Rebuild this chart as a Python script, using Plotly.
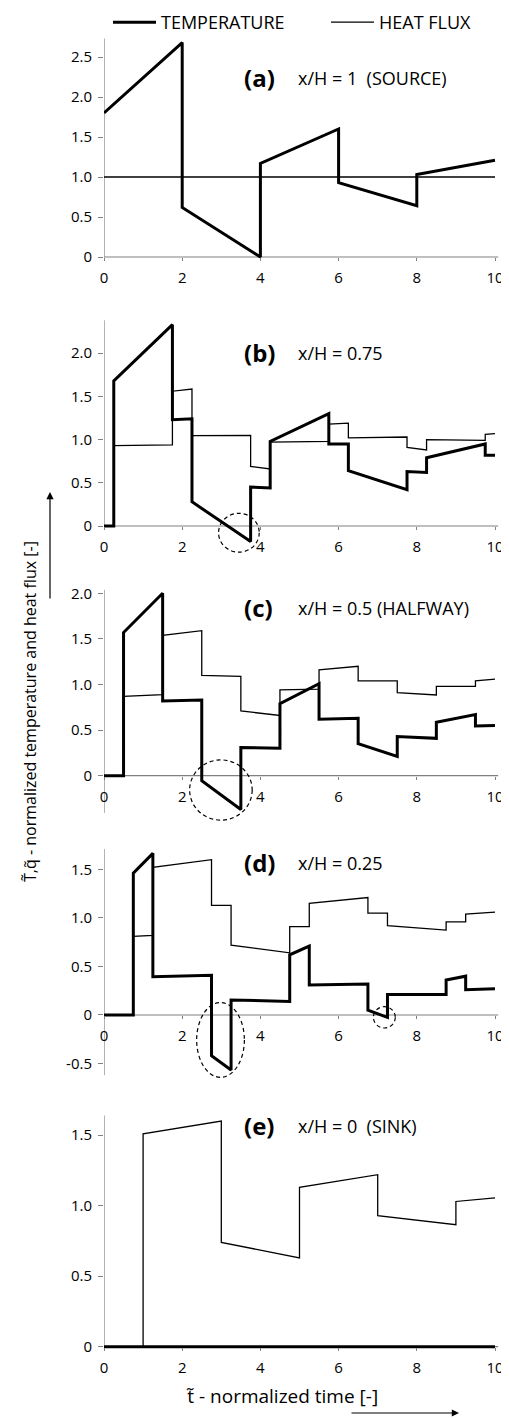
import plotly.graph_objects as go

# ---------------- data ----------------
# panel (a) x/H = 1 (SOURCE)
ta_x = [0, 2, 2, 4, 4, 6, 6, 8, 8, 10]
ta_y = [1.80, 2.68, 0.62, 0.0, 1.17, 1.60, 0.93, 0.64, 1.03, 1.21]
qa_x = [0, 10]
qa_y = [1.0, 1.0]

# panel (b) x/H = 0.75
tb_x = [0, 0.25, 0.25, 1.75, 1.75, 2.25, 2.25, 3.75, 3.75, 4.25, 4.25,
        5.75, 5.75, 6.25, 6.25, 7.75, 7.75, 8.25, 8.25, 9.75, 9.75, 10]
tb_y = [0, 0, 1.68, 2.33, 1.23, 1.24, 0.28, -0.18, 0.45, 0.44, 0.98,
        1.30, 0.95, 0.95, 0.64, 0.42, 0.63, 0.62, 0.79, 0.95, 0.82, 0.82]
qb_x = tb_x
qb_y = [0, 0, 0.93, 0.94, 1.56, 1.585, 1.045, 1.05, 0.69, 0.66, 0.97,
        0.98, 1.18, 1.19, 1.02, 1.03, 0.91, 0.88, 1.00, 0.99, 1.06, 1.07]

# panel (c) x/H = 0.5 (HALFWAY)
tc_x = [0, 0.5, 0.5, 1.5, 1.5, 2.5, 2.5, 3.5, 3.5, 4.5, 4.5,
        5.5, 5.5, 6.5, 6.5, 7.5, 7.5, 8.5, 8.5, 9.5, 9.5, 10]
tc_y = [0, 0, 1.57, 2.0, 0.82, 0.83, -0.055, -0.37, 0.31, 0.30, 0.79,
        1.01, 0.62, 0.63, 0.35, 0.21, 0.43, 0.41, 0.585, 0.67, 0.545, 0.55]
qc_x = tc_x
qc_y = [0, 0, 0.87, 0.89, 1.54, 1.59, 1.10, 1.09, 0.71, 0.66, 0.94,
        0.95, 1.16, 1.20, 1.04, 1.04, 0.91, 0.885, 0.98, 0.98, 1.04, 1.06]

# panel (d) x/H = 0.25
td_x = [0, 0.75, 0.75, 1.25, 1.25, 2.75, 2.75, 3.25, 3.25, 4.75, 4.75,
        5.25, 5.25, 6.75, 6.75, 7.25, 7.25, 8.75, 8.75, 9.25, 9.25, 10]
td_y = [0, 0, 1.46, 1.665, 0.395, 0.41, -0.42, -0.566, 0.155, 0.14, 0.62,
        0.71, 0.31, 0.32, 0.05, -0.024, 0.21, 0.21, 0.36, 0.40, 0.26, 0.27]
qd_x = td_x
qd_y = [0, 0, 0.81, 0.82, 1.52, 1.60, 1.13, 1.13, 0.72, 0.64, 0.91,
        0.91, 1.15, 1.21, 1.05, 1.05, 0.92, 0.875, 0.96, 0.96, 1.04, 1.06]

# panel (e) x/H = 0 (SINK)
te_x = [0, 10]
te_y = [0, 0]
qe_x = [0, 1, 1, 3, 3, 5, 5, 7, 7, 9, 9, 10]
qe_y = [0, 0, 1.51, 1.60, 0.74, 0.63, 1.13, 1.22, 0.93, 0.865, 1.03, 1.055]

panel_letters = ["(a)", "(b)", "(c)", "(d)", "(e)"]
panel_texts = ["x/H = 1  (SOURCE)", "x/H = 0.75", "x/H = 0.5 (HALFWAY)",
               "x/H = 0.25", "x/H = 0  (SINK)"]

x_ticks = [0, 2, 4, 6, 8, 10]
y_ticks = [
    [0, 0.5, 1.0, 1.5, 2.0, 2.5],
    [0, 0.5, 1.0, 1.5, 2.0],
    [0, 0.5, 1.0, 1.5, 2.0],
    [-0.5, 0, 0.5, 1.0, 1.5],
    [0, 0.5, 1.0, 1.5],
]
y_ticktext = [["0" if v == 0 else f"{v:.1f}" for v in t] for t in y_ticks]

# dashed circles: (panel index, cx, cy, rx, ry)
circles = [
    (1, 3.45, -0.078, 0.52, 0.225),
    (2, 2.99, -0.157, 0.80, 0.33),
    (3, 2.98, -0.257, 0.61, 0.385),
    (3, 7.17, -0.024, 0.28, 0.11),
]

temps = [(ta_x, ta_y), (tb_x, tb_y), (tc_x, tc_y), (td_x, td_y), (te_x, te_y)]
fluxes = [(qa_x, qa_y), (qb_x, qb_y), (qc_x, qc_y), (qd_x, qd_y), (qe_x, qe_y)]

# ---------------- layout geometry (page pixels) ----------------
PAGE_W, PAGE_H = 509, 1418
OFF = 8                      # default page body margin
W, H = PAGE_W - OFF, PAGE_H - OFF


def px(xp):
    return (xp - OFF) / W


def py(yp):
    return 1 - (yp - OFF) / H


# per panel: page pixel of y=0, px per unit, range lo, range hi, axis bottom, axis top
geom = [
    (257.0, 80.0, -0.05, 2.75, 0.0, 2.73),
    (526.0, 86.4, -0.33, 2.40, 0.0, 2.38),
    (775.7, 91.2, -0.52, 2.06, -0.41, 2.04),
    (1015.0, 97.1, -0.68, 1.73, -0.62, 1.71),
    (1346.7, 141.0, -0.04, 1.66, 0.0, 1.64),
]
x_left_px = 104.0
x_px_per_unit = 39.1
x_range = [0, 10.2]
x_dom = [px(x_left_px), px(x_left_px + x_range[1] * x_px_per_unit)]

FONT = "Open Sans"
GRAY = "#808080"

fig = go.Figure()
legend_common = dict(orientation="h", xanchor="left", yanchor="top",
                     font=dict(family=FONT, size=18, color="black"),
                     itemwidth=43, bgcolor="rgba(0,0,0,0)",
                     borderwidth=0, tracegroupgap=0, y=1.0 + 4 / H)
layout = dict(
    width=W, height=H,
    margin=dict(l=0, r=0, t=0, b=0, autoexpand=False),
    paper_bgcolor="white", plot_bgcolor="white",
    font=dict(family=FONT, color="black", size=15),
    showlegend=True,
    legend=dict(x=px(108), **legend_common),
    legend2=dict(x=px(326), **legend_common),
)
shapes = []
annotations = []

for i in range(5):
    y0p, sc, lo, hi, ab, at = geom[i]
    dom = [py(y0p - lo * sc), py(y0p - hi * sc)]
    xa = "x" if i == 0 else f"x{i+1}"
    ya = "y" if i == 0 else f"y{i+1}"
    xk = "xaxis" if i == 0 else f"xaxis{i+1}"
    yk = "yaxis" if i == 0 else f"yaxis{i+1}"
    xpos = py(y0p)
    layout[xk] = dict(domain=x_dom, range=x_range, anchor="free", position=xpos,
                      showgrid=False, zeroline=False, showline=False,
                      tickvals=x_ticks, ticktext=[str(v) for v in x_ticks],
                      ticks="outside", ticklen=3, tickwidth=1, tickcolor=GRAY,
                      ticklabelstandoff=4, automargin=False,
                      tickfont=dict(size=15), fixedrange=True)
    layout[yk] = dict(domain=dom, range=[lo, hi], anchor=xa,
                      showgrid=False, zeroline=False, showline=False,
                      tickvals=y_ticks[i], ticktext=y_ticktext[i],
                      ticks="outside", ticklen=5, tickwidth=1, tickcolor=GRAY,
                      ticklabelstandoff=3, automargin=False,
                      tickfont=dict(size=15), fixedrange=True)
    # axis lines
    shapes.append(dict(type="line", xref=xa, yref=ya, x0=0, x1=0, y0=ab, y1=at,
                       line=dict(color=GRAY, width=1.2), layer="below"))
    shapes.append(dict(type="line", xref=xa, yref=ya, x0=0, x1=10.08, y0=0, y1=0,
                       line=dict(color=GRAY, width=1.2), layer="below"))
    qx, qy = fluxes[i]
    tx, ty = temps[i]
    fig.add_trace(go.Scatter(x=qx, y=qy, mode="lines", name="HEAT FLUX",
                             line=dict(color="black", width=1.3),
                             showlegend=(i == 0), legend="legend2",
                             xaxis=xa, yaxis=ya))
    fig.add_trace(go.Scatter(x=tx, y=ty, mode="lines", name="TEMPERATURE",
                             line=dict(color="black", width=3),
                             showlegend=(i == 0), legend="legend",
                             xaxis=xa, yaxis=ya))
    # panel labels
    title_y_px = [77, 352, 607, 862, 1125][i]
    annotations.append(dict(xref="paper", yref="paper", x=px(242), y=py(title_y_px),
                            xanchor="left", yanchor="middle", showarrow=False,
                            text=f"<b>{panel_letters[i]}</b>",
                            font=dict(family=FONT, size=24, color="black")))
    annotations.append(dict(xref="paper", yref="paper", x=px(296), y=py(title_y_px + 1),
                            xanchor="left", yanchor="middle", showarrow=False,
                            text=panel_texts[i],
                            font=dict(family=FONT, size=18, color="black")))

for (pi, cx, cy, rx, ry) in circles:
    xa = "x" if pi == 0 else f"x{pi+1}"
    ya = "y" if pi == 0 else f"y{pi+1}"
    shapes.append(dict(type="circle", xref=xa, yref=ya,
                       x0=cx - rx, x1=cx + rx, y0=cy - ry, y1=cy + ry,
                       line=dict(color="black", width=1.2, dash="4px,3px")))

# axis titles
annotations.append(dict(xref="paper", yref="paper", x=px(30), y=py(712),
                        xanchor="center", yanchor="middle", showarrow=False, textangle=-90,
                        text="T\u0303,q\u0303 - normalized temperature and heat flux [-]",
                        font=dict(family=FONT, size=16, color="black")))
annotations.append(dict(xref="paper", yref="paper", x=px(50), y=py(492),
                        ax=0, ay=108, axref="pixel", ayref="pixel",
                        showarrow=True, arrowhead=2, arrowsize=1.2, arrowwidth=1.2,
                        arrowcolor="black", text=""))
annotations.append(dict(xref="paper", yref="paper", x=px(282), y=py(1396),
                        xanchor="center", yanchor="middle", showarrow=False,
                        text="t\u0303 - normalized time [-]",
                        font=dict(family=FONT, size=19, color="black")))
annotations.append(dict(xref="paper", yref="paper", x=px(459), y=py(1413),
                        ax=-109, ay=0, axref="pixel", ayref="pixel",
                        showarrow=True, arrowhead=2, arrowsize=1.2, arrowwidth=1.2,
                        arrowcolor="black", text=""))

layout["shapes"] = shapes
layout["annotations"] = annotations
fig.update_layout(**layout)
fig.write_html("out.html")
